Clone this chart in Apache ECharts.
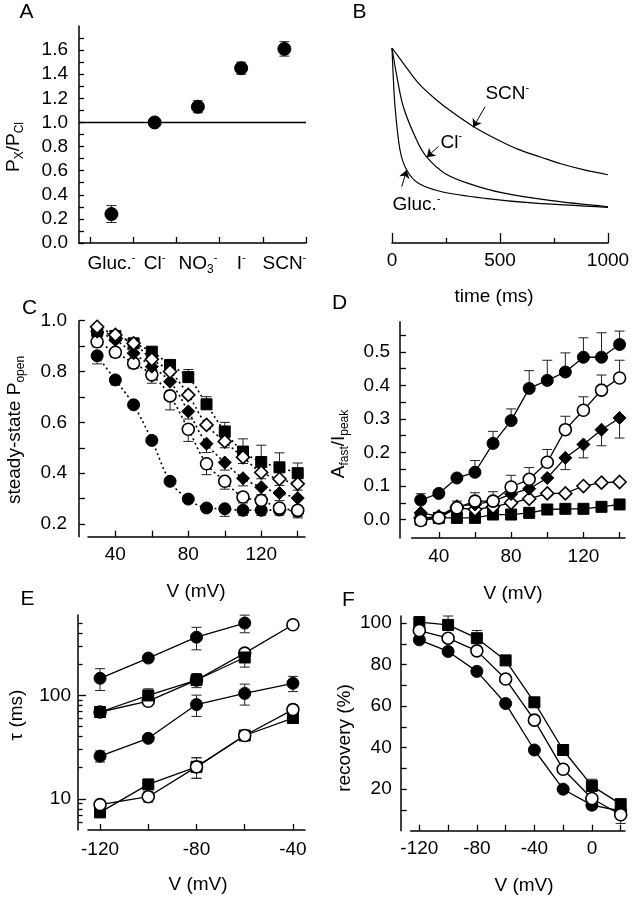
<!DOCTYPE html>
<html><head><meta charset="utf-8">
<script src="https://cdn.jsdelivr.net/npm/echarts@6/dist/echarts.min.js"></script>
<style>html,body{margin:0;padding:0;background:#fff}#c{width:633px;height:900px}</style>
</head><body><div id="c"></div>
<script>
// ---------- DATA ----------
// Panel A
const ionNames = ['Gluc.', 'Cl', 'NO3', 'I', 'SCN'];
const ionLabelRich = ['{m|Gluc.}{sp|-}', '{m|Cl}{sp|-}', '{m|NO}{sb|3}{sp|-}', '{m|I}{sp|-}', '{m|SCN}{sp|-}'];
const pxPcl = [0.24, 1.0, 1.13, 1.45, 1.61];
const pxPclErr = [0.07, 0, 0.05, 0.05, 0.06];
const aTicksX = [-0.5, 0.5, 1.5, 2.5, 3.5, 4.5];
const aLabelsX = [0, 1, 2, 3, 4];
const aTicksY = [0, 0.1, 0.2, 0.3, 0.4, 0.5, 0.6, 0.7, 0.8, 0.9, 1.0, 1.1, 1.2, 1.3, 1.4, 1.5, 1.6, 1.7];
const aLabelsY = [0, 0.2, 0.4, 0.6, 0.8, 1.0, 1.2, 1.4, 1.6];

// Panel B (normalized current traces)
const tScn = [0, 60, 122, 199, 280, 376, 480, 585, 690, 785, 890, 1000];
const iScn = [1.0, 0.91, 0.82, 0.74, 0.67, 0.598, 0.535, 0.48, 0.44, 0.405, 0.375, 0.35];
const tCl = [0, 20, 52, 114, 161, 245, 353, 508, 739, 1000];
const iCl = [1.0, 0.87, 0.70, 0.528, 0.44, 0.357, 0.306, 0.258, 0.217, 0.186];
const tGluc = [0, 5, 14, 37, 68, 122, 230, 431, 662, 1000];
const iGluc = [1.0, 0.87, 0.70, 0.477, 0.374, 0.306, 0.263, 0.229, 0.204, 0.183];

// Panel C (steady-state Popen)
const cdV = [30, 40, 50, 60, 70, 80, 90, 100, 110, 120, 130, 140];
const cFilledCircle = [0.862, 0.767, 0.669, 0.529, 0.368, 0.298, 0.263, 0.26, 0.254, 0.254, 0.255, 0.25];
const cFilledCircleErr = [0.032, 0.02, 0, 0, 0, 0, 0, 0.03, 0.02, 0.02, 0.02, 0.02];
const cOpenCircle = [0.917, 0.876, 0.833, 0.787, 0.704, 0.573, 0.437, 0.368, 0.306, 0.293, 0.263, 0.254];
const cOpenCircleErr = [0.02, 0.02, 0.02, 0.033, 0.055, 0.048, 0.043, 0.031, 0.023, 0.023, 0.02, 0.03];
const cFilledDiamond = [0.957, 0.924, 0.872, 0.819, 0.76, 0.643, 0.516, 0.442, 0.38, 0.345, 0.322, 0.302];
const cFilledDiamondErr = [0, 0, 0, 0, 0, 0.03, 0.035, 0.03, 0.03, 0.03, 0.03, 0.03];
const cOpenDiamond = [0.976, 0.944, 0.911, 0.848, 0.80, 0.708, 0.59, 0.525, 0.463, 0.403, 0.377, 0.358];
const cOpenDiamondErr = [0, 0, 0, 0, 0, 0, 0, 0.025, 0.025, 0.025, 0.025, 0.025];
const cFilledSquare = [0.96, 0.94, 0.911, 0.878, 0.826, 0.778, 0.671, 0.564, 0.485, 0.444, 0.423, 0.40];
const cFilledSquareErr = [0, 0, 0, 0, 0, 0.03, 0.03, 0.036, 0.05, 0.066, 0.057, 0.04];
const cTicksX = [40, 60, 80, 100, 120, 140];
const cLabelsX = [40, 80, 120];
const cTicksY = [0.2, 0.3, 0.4, 0.5, 0.6, 0.7, 0.8, 0.9, 1.0];
const cLabelsY = [0.2, 0.4, 0.6, 0.8, 1.0];

// Panel D (Afast/Ipeak)
const dFilledCircle = [0.058, 0.078, 0.124, 0.141, 0.227, 0.295, 0.391, 0.415, 0.44, 0.484, 0.484, 0.522];
const dFilledCircleErr = [0.019, 0, 0, 0.035, 0.036, 0.035, 0.053, 0.06, 0.057, 0.058, 0.073, 0.04];
const dOpenCircle = [-0.003, 0.005, 0.035, 0.055, 0.055, 0.097, 0.12, 0.171, 0.268, 0.326, 0.386, 0.422];
const dOpenCircleErr = [0, 0, 0.02, 0.025, 0.028, 0.035, 0.035, 0.038, 0.04, 0.04, 0.045, 0.053];
const dFilledDiamond = [0.02, 0.01, 0.04, 0.045, 0.055, 0.076, 0.092, 0.124, 0.184, 0.224, 0.268, 0.303];
const dFilledDiamondErr = [0, 0, 0, 0, 0, 0, 0, 0, 0.035, 0.04, 0.048, 0.06];
const dOpenDiamond = [0.005, 0.008, 0.035, 0.03, 0.038, 0.05, 0.062, 0.078, 0.078, 0.1, 0.11, 0.112];
const dFilledSquare = [0.0, 0.005, 0.005, 0.005, 0.015, 0.015, 0.02, 0.03, 0.032, 0.032, 0.038, 0.045];
const dTicksY = [0, 0.05, 0.1, 0.15, 0.2, 0.25, 0.3, 0.35, 0.4, 0.45, 0.5, 0.55];
const dLabelsY = [0, 0.1, 0.2, 0.3, 0.4, 0.5];

// Panel E (tau, log scale)
const eV = [-120, -100, -80, -60, -40];
const eFilledCircleSlow = [146.6, 230, 366, 501, null];
const eFilledCircleSlowErr = [35, 0, 90, 97, 0];
const eSquareSlow = [69.2, 100, 141, 233, null];
const eSquareSlowErr = [0, 16, 22, 45, 0];
const eOpenCircleSlow = [69.2, 88, 141, 257, 483];
const eFilledCircleFast = [25.9, 38.5, 81.7, 104.7, 131];
const eFilledCircleFastErr = [3.2, 0, 19, 24, 22];
const eSquareFast = [7.4, 13.8, 20.4, 41, 60.5];
const eSquareFastErr = [0, 0, 4.6, 0, 0];
const eOpenCircleFast = [8.8, 10.5, 20.4, 41, 73];
const eOpenCircleFastErr = [0, 1.2, 4.6, 0, 8];
const eTicksX = [-120, -100, -80, -60, -40];
const eLabelsX = [-120, -80, -40];
const eLabelsY = [10, 100];

// Panel F (recovery %)
const fV = [-120, -100, -80, -60, -40, -20, 0, 20];
const fSquare = [100.5, 99.2, 92.8, 82.1, 61.9, 38.9, 21.6, 12.8];
const fSquareErr = [2.7, 4.3, 3.7, 0, 0, 0, 3.2, 0];
const fOpenCircle = [96.5, 92.8, 86.7, 73.1, 53.3, 29.6, 15.5, 7.7];
const fOpenCircleErr = [0, 0, 0, 0, 0, 0, 0, 4.2];
const fFilledCircle = [92, 86.4, 76.8, 61.3, 38.9, 20, 12.3, 9.5];
const fFilledCircleErr = [0, 0, 0, 0, 0, 0, 1.9, 0];
const fTicksX = [-120, -100, -80, -60, -40, -20, 0, 20];
const fLabelsX = [-120, -80, -40, 0];
const fTicksY = [10, 20, 30, 40, 50, 60, 70, 80, 90, 100];
const fLabelsY = [20, 40, 60, 80, 100];

// ---------- STYLE HELPERS ----------
const FF = '"Liberation Sans", Arial, Helvetica, sans-serif';
const FS = 19;
const rich = {
  m: { fontSize: FS, fontFamily: FF, color: '#000', lineHeight: 24 },
  sp: { fontSize: 11, fontFamily: FF, color: '#000', lineHeight: 12, verticalAlign: 'top' },
  sb: { fontSize: 12, fontFamily: FF, color: '#000', lineHeight: 12, verticalAlign: 'bottom' }
};
const axLine = { show: true, onZero: false, lineStyle: { color: '#000', width: 1.5 } };
function tickCfg(vals, len) {
  const t = { show: true, inside: true, length: len || 6, lineStyle: { color: '#000', width: 1.3 } };
  if (vals) t.customValues = vals;
  return t;
}
function labCfg(vals, margin, fmt) {
  const l = { show: true, margin: margin, fontSize: FS, fontFamily: FF, color: '#000' };
  if (vals) l.customValues = vals;
  if (fmt) l.formatter = fmt;
  return l;
}
const f1 = v => Number(v).toFixed(1);
const f0 = v => String(Math.round(v));

function pts(xs, ys) {
  const out = [];
  xs.forEach((x, i) => { if (ys[i] !== null && ys[i] !== undefined) out.push([x, ys[i]]); });
  return out;
}
const FILLED = { color: '#000', borderColor: '#000', borderWidth: 1, opacity: 1 };
const OPEN = { color: '#fff', borderColor: '#000', borderWidth: 1.6, opacity: 1 };
const SYM = { circle: ['circle', 12], diamond: ['diamond', 13], square: ['rect', 11] };

function markerLine(gi, xs, ys, shape, open, dotted) {
  return {
    type: 'line', xAxisIndex: gi, yAxisIndex: gi === 4 ? 4 : (gi === 5 ? 6 : gi),
    data: pts(xs, ys), symbol: SYM[shape][0], symbolSize: SYM[shape][1], showSymbol: true,
    smooth: dotted ? 0.35 : false,
    itemStyle: open ? OPEN : FILLED,
    lineStyle: { color: '#000', width: dotted ? 1.6 : 1.3, type: dotted ? [2, 3] : 'solid' },
    z: 3, silent: true
  };
}
function errBars(gi, xs, ys, es, dir) {
  const data = [];
  xs.forEach((x, i) => { if (ys[i] !== null && es[i]) data.push([x, ys[i], es[i]]); });
  return {
    type: 'custom', xAxisIndex: gi, yAxisIndex: gi === 4 ? 4 : (gi === 5 ? 6 : gi),
    data: data, encode: { x: 0, y: 1 }, z: 2, silent: true,
    renderItem: function (p, api) {
      const x = api.value(0), y = api.value(1), e = api.value(2);
      const lo = dir > 0 ? y : y - e, hi = dir < 0 ? y : y + e;
      const a = api.coord([x, lo]), b = api.coord([x, hi]);
      const st = { stroke: '#222', lineWidth: 1 };
      const ch = [{ type: 'line', shape: { x1: a[0], y1: a[1], x2: b[0], y2: b[1] }, style: st }];
      if (dir <= 0) ch.push({ type: 'line', shape: { x1: a[0] - 5, y1: a[1], x2: a[0] + 5, y2: a[1] }, style: st });
      if (dir >= 0) ch.push({ type: 'line', shape: { x1: b[0] - 5, y1: b[1], x2: b[0] + 5, y2: b[1] }, style: st });
      return { type: 'group', children: ch };
    }
  };
}
function trace(xs, ys, arrow, labelCoord, labelText) {
  return {
    type: 'line', xAxisIndex: 1, yAxisIndex: 1, data: pts(xs, ys), showSymbol: false,
    smooth: 0.3, lineStyle: { color: '#000', width: 1.2 }, silent: true,
    markLine: {
      silent: true, symbol: ['none', 'arrow'], symbolSize: 8, label: { show: false },
      lineStyle: { color: '#000', width: 1, type: 'solid' },
      data: [[{ coord: arrow[0] }, { coord: arrow[1] }]]
    },
    markPoint: {
      silent: true, symbol: 'rect', symbolSize: 1, itemStyle: { color: 'rgba(0,0,0,0)' },
      label: { show: true, position: 'right', distance: 0, formatter: labelText, rich: rich },
      data: [{ coord: labelCoord }]
    }
  };
}

const grids = [
  { left: 79, top: 26, width: 227, height: 217 },
  { left: 392, top: 48, width: 216, height: 195 },
  { left: 88, top: 320.7, width: 217, height: 216 },
  { left: 411.7, top: 321.7, width: 213.3, height: 216.3 },
  { left: 88, top: 615, width: 217, height: 215 },
  { left: 410.7, top: 616, width: 214.3, height: 214.7 }
].map(g => Object.assign({ containLabel: false, outerBoundsMode: 'none' }, g));

const xAxes = [
  { gridIndex: 0, type: 'value', min: -0.75, max: 4.5, axisLine: axLine, axisTick: tickCfg(aTicksX, 6),
    axisLabel: Object.assign(labCfg(aLabelsX, 9, v => ionLabelRich[Math.round(v)]), { rich: rich }), splitLine: { show: false } },
  { gridIndex: 1, type: 'value', min: 0, max: 1000, interval: 500, axisLine: axLine, axisTick: tickCfg(null, 10),
    minorTick: { show: true, splitNumber: 2, length: 5, lineStyle: { color: '#000', width: 1.3 } },
    axisLabel: labCfg(null, 8, f0), splitLine: { show: false }, minorSplitLine: { show: false } },
  { gridIndex: 2, type: 'value', min: 25, max: 144, axisLine: axLine, axisTick: tickCfg(cTicksX, 6),
    axisLabel: labCfg(cLabelsX, 9, f0), splitLine: { show: false } },
  { gridIndex: 3, type: 'value', min: 25, max: 143, axisLine: axLine, axisTick: tickCfg(cTicksX, 6),
    axisLabel: labCfg(cLabelsX, 9, f0), splitLine: { show: false } },
  { gridIndex: 4, type: 'value', min: -125, max: -35, axisLine: axLine, axisTick: tickCfg(eTicksX, 6),
    axisLabel: labCfg(eLabelsX, 10, f0), splitLine: { show: false } },
  { gridIndex: 5, type: 'value', min: -126, max: 23, axisLine: axLine, axisTick: tickCfg(fTicksX, 6),
    axisLabel: labCfg(fLabelsX, 9, f0), splitLine: { show: false } }
];
const yAxes = [
  { gridIndex: 0, type: 'value', min: 0, max: 1.8, axisLine: axLine, axisTick: tickCfg(aTicksY, 5),
    axisLabel: labCfg(aLabelsY, 11, f1), splitLine: { show: false } },
  { gridIndex: 1, type: 'value', min: 0, max: 1, show: false },
  { gridIndex: 2, type: 'value', min: 0.15, max: 1.0, offset: 9, axisLine: axLine, axisTick: tickCfg(cTicksY, 6),
    axisLabel: labCfg(cLabelsY, 12, f1), splitLine: { show: false } },
  { gridIndex: 3, type: 'value', min: -0.055, max: 0.59, offset: 11.7, axisLine: axLine, axisTick: tickCfg(dTicksY, 6),
    axisLabel: labCfg(dLabelsY, 10, f1), splitLine: { show: false } },
  { gridIndex: 4, type: 'log', logBase: 10, min: 5, max: 600, offset: 10, axisLine: axLine, axisTick: tickCfg(eLabelsY, 8),
    minorTick: { show: true, splitNumber: 9, length: 4.5, lineStyle: { color: '#000', width: 1.3 } },
    axisLabel: labCfg(eLabelsY, 7, f0), splitLine: { show: false }, minorSplitLine: { show: false } },
  { gridIndex: 4, type: 'log', min: 5, max: 600, show: false },
  { gridIndex: 5, type: 'value', min: 0, max: 103.5, offset: 10, axisLine: axLine, axisTick: tickCfg(fTicksY, 6),
    axisLabel: labCfg(fLabelsY, 9, f0), splitLine: { show: false } }
];

const series = [
  // A
  errBars(0, aLabelsX, pxPcl, pxPclErr, 0),
  { type: 'scatter', xAxisIndex: 0, yAxisIndex: 0, data: pts(aLabelsX, pxPcl), symbol: 'circle', symbolSize: 13,
    itemStyle: FILLED, z: 3, silent: true,
    markLine: { silent: true, symbol: 'none', label: { show: false }, lineStyle: { color: '#000', width: 1.3, type: 'solid' }, data: [{ yAxis: 1.0 }] } },
  // B
  trace(tScn, iScn, [[431, 0.699], [376, 0.593]], [430, 0.764], '{m|SCN}{sp|-}'),
  trace(tCl, iCl, [[214, 0.494], [161, 0.44]], [222, 0.513], '{m|Cl}{sp|-}'),
  trace(tGluc, iGluc, [[45, 0.289], [68, 0.374]], [0, 0.195], '{m|Gluc.}{sp|-}'),
  // C
  errBars(2, cdV, cFilledCircle, cFilledCircleErr, -1),
  errBars(2, cdV, cOpenCircle, cOpenCircleErr, -1),
  errBars(2, cdV, cFilledDiamond, cFilledDiamondErr, -1),
  errBars(2, cdV, cOpenDiamond, cOpenDiamondErr, -1),
  errBars(2, cdV, cFilledSquare, cFilledSquareErr, 1),
  markerLine(2, cdV, cFilledSquare, 'square', false, true),
  markerLine(2, cdV, cFilledCircle, 'circle', false, true),
  markerLine(2, cdV, cOpenCircle, 'circle', true, true),
  markerLine(2, cdV, cFilledDiamond, 'diamond', false, true),
  markerLine(2, cdV, cOpenDiamond, 'diamond', true, true),
  // D
  errBars(3, cdV, dFilledCircle, dFilledCircleErr, 1),
  errBars(3, cdV, dOpenCircle, dOpenCircleErr, 1),
  errBars(3, cdV, dFilledDiamond, dFilledDiamondErr, -1),
  markerLine(3, cdV, dFilledSquare, 'square', false, false),
  markerLine(3, cdV, dOpenDiamond, 'diamond', true, false),
  markerLine(3, cdV, dFilledDiamond, 'diamond', false, false),
  markerLine(3, cdV, dOpenCircle, 'circle', true, false),
  markerLine(3, cdV, dFilledCircle, 'circle', false, false),
  // E
  errBars(4, eV, eFilledCircleSlow, eFilledCircleSlowErr, 0),
  errBars(4, eV, eSquareSlow, eSquareSlowErr, 0),
  errBars(4, eV, eFilledCircleFast, eFilledCircleFastErr, 0),
  errBars(4, eV, eSquareFast, eSquareFastErr, 0),
  errBars(4, eV, eOpenCircleFast, eOpenCircleFastErr, 0),
  markerLine(4, eV, eFilledCircleSlow, 'circle', false, false),
  markerLine(4, eV, eOpenCircleSlow, 'circle', true, false),
  markerLine(4, eV, eSquareSlow, 'square', false, false),
  markerLine(4, eV, eFilledCircleFast, 'circle', false, false),
  markerLine(4, eV, eSquareFast, 'square', false, false),
  markerLine(4, eV, eOpenCircleFast, 'circle', true, false),
  // F
  errBars(5, fV, fSquare, fSquareErr, 1),
  errBars(5, fV, fOpenCircle, fOpenCircleErr, -1),
  errBars(5, fV, fFilledCircle, fFilledCircleErr, -1),
  markerLine(5, fV, fFilledCircle, 'circle', false, false),
  markerLine(5, fV, fSquare, 'square', false, false),
  markerLine(5, fV, fOpenCircle, 'circle', true, false)
];

function txt(text, x, y, size, rot) {
  const el = { type: 'text', x: x, y: y, silent: true,
    style: { text: text, fontSize: size || FS, fontFamily: FF, fill: '#000', align: 'center', verticalAlign: 'middle', rich: rich } };
  if (rot) el.rotation = Math.PI / 2;
  return el;
}
const graphic = [
  txt('A', 26.5, 12.5, 21), txt('B', 359.5, 12.5, 21), txt('C', 29.5, 308.5, 21),
  txt('D', 339.5, 303.5, 21), txt('E', 27.5, 599.5, 21), txt('F', 348.5, 600, 21),
  txt('time (ms)', 494, 297), txt('V (mV)', 196, 592), txt('V (mV)', 513, 594),
  txt('V (mV)', 198, 885), txt('V (mV)', 524, 886),
  txt('{m|P}{sb|X}{m|/P}{sb|Cl}', 14, 147, FS, true),
  txt('{m|steady-state P}{sb|open}', 15, 430, FS, true),
  txt('{m|A}{sb|fast}{m|/I}{sb|peak}', 339, 444, FS, true),
  txt('τ (ms)', 17, 715, FS, true),
  txt('recovery (%)', 345, 738, FS, true)
];

const chart = echarts.init(document.getElementById('c'), null, { renderer: 'canvas' });
chart.setOption({
  animation: false, backgroundColor: '#fff',
  textStyle: { fontFamily: FF },
  grid: grids, xAxis: xAxes, yAxis: yAxes, series: series, graphic: graphic
});
</script></body></html>
